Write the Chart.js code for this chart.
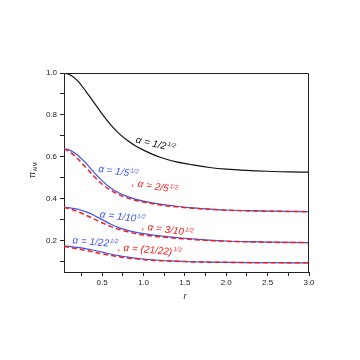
<!DOCTYPE html>
<html>
<head>
<meta charset="utf-8">
<script src="https://cdn.jsdelivr.net/npm/chart.js@4/dist/chart.umd.min.js"></script>
<style>
  html, body { margin: 0; padding: 0; background: #fff; }
  #wrap { width: 360px; height: 360px; }
</style>
</head>
<body>
<div id="wrap"><canvas id="chart" width="360" height="360"></canvas></div>
<script>
// r values shared by every curve
const rValues = [0.04, 0.1, 0.2, 0.3, 0.4, 0.5, 0.6, 0.7, 0.8, 0.9, 1.0, 1.2, 1.4, 1.6, 1.8, 2.0, 2.25, 2.5, 2.75, 3.0];

// alpha = 1/2^(1/2)
const piHalf = [1.0, 0.994, 0.965, 0.915, 0.86, 0.805, 0.755, 0.713, 0.68, 0.653, 0.632, 0.598, 0.576, 0.561, 0.549, 0.541, 0.535, 0.531, 0.528, 0.527];
// alpha = 1/5^(1/2) (blue) and 2/5^(1/2) (red)
const piFifthA = [0.638, 0.633, 0.610, 0.572, 0.527, 0.486, 0.452, 0.428, 0.411, 0.398, 0.388, 0.374, 0.364, 0.356, 0.350, 0.346, 0.343, 0.341, 0.339, 0.338];
const piFifthB = [0.638, 0.626, 0.593, 0.551, 0.508, 0.470, 0.441, 0.420, 0.404, 0.393, 0.384, 0.370, 0.361, 0.354, 0.349, 0.345, 0.342, 0.340, 0.339, 0.338];
// alpha = 1/10^(1/2) (blue) and 3/10^(1/2) (red)
const piTenthA = [0.360, 0.357, 0.350, 0.338, 0.321, 0.300, 0.279, 0.262, 0.250, 0.240, 0.233, 0.222, 0.214, 0.208, 0.202, 0.198, 0.195, 0.193, 0.191, 0.190];
const piTenthB = [0.358, 0.352, 0.339, 0.322, 0.304, 0.285, 0.268, 0.254, 0.243, 0.234, 0.227, 0.218, 0.211, 0.205, 0.200, 0.197, 0.194, 0.192, 0.191, 0.190];
// alpha = 1/22^(1/2) (blue) and (21/22)^(1/2) (red)
const pi22A = [0.174, 0.172, 0.168, 0.162, 0.154, 0.145, 0.136, 0.128, 0.122, 0.116, 0.112, 0.106, 0.102, 0.099, 0.097, 0.096, 0.095, 0.095, 0.094, 0.094];
const pi22B = [0.172, 0.168, 0.161, 0.153, 0.145, 0.137, 0.129, 0.123, 0.117, 0.113, 0.109, 0.104, 0.101, 0.098, 0.097, 0.096, 0.095, 0.094, 0.094, 0.094];

const xTickLabels = ["0.5", "1.0", "1.5", "2.0", "2.5", "3.0"];
const yTickLabels = ["0.2", "0.4", "0.6", "0.8", "1.0"];

const BLUE = "#3a55f0";
const RED = "#f0201c";
const BLACK = "#111";

// curve labels: main text + superscript, placed in data coords
const curveLabels = [
  { text: "\u03b1 = 1/2", sup: "1/2", color: BLACK, r: 0.90, v: 0.668, rot: 13 },
  { text: "\u03b1 = 1/5", sup: "1/2", color: BLUE, r: 0.45, v: 0.528, rot: 8 },
  { text: ", \u03b1 = 2/5", sup: "1/2", color: RED, r: 0.86, v: 0.463, rot: 10 },
  { text: "\u03b1 = 1/10", sup: "1/2", color: BLUE, r: 0.47, v: 0.311, rot: 7 },
  { text: ", \u03b1 = 3/10", sup: "1/2", color: RED, r: 0.98, v: 0.254, rot: 8 },
  { text: "\u03b1 = 1/22", sup: "1/2", color: BLUE, r: 0.14, v: 0.187, rot: 5 },
  { text: ", \u03b1 = (21/22)", sup: "1/2", color: RED, r: 0.69, v: 0.154, rot: 5 }
];

const FONT = 'Arial, "Liberation Sans", sans-serif';

function pts(ys) {
  return rValues.map((r, i) => ({ x: r, y: ys[i] }));
}

function line(ys, color, dashed, order) {
  return {
    data: pts(ys),
    borderColor: color,
    borderWidth: dashed ? 1.5 : 1.2,
    borderDash: dashed ? [5, 3] : [],
    pointRadius: 0,
    cubicInterpolationMode: 'monotone',
    fill: false,
    order: order
  };
}

const extras = {
  id: 'extras',
  afterDraw(c) {
    const ctx = c.ctx;
    const a = c.chartArea;
    const xs = c.scales.x, ys = c.scales.y;
    ctx.save();
    // frame top + right
    ctx.strokeStyle = '#222';
    ctx.lineWidth = 1;
    ctx.beginPath();
    ctx.moveTo(a.left, a.top + 0.5);
    ctx.lineTo(a.right - 0.5, a.top + 0.5);
    ctx.lineTo(a.right - 0.5, a.bottom);
    ctx.stroke();

    // curve labels
    curveLabels.forEach(l => {
      const px = xs.getPixelForValue(l.r);
      const py = ys.getPixelForValue(l.v);
      ctx.save();
      ctx.translate(px, py);
      ctx.rotate(l.rot * Math.PI / 180);
      ctx.fillStyle = l.color;
      ctx.textBaseline = 'alphabetic';
      ctx.textAlign = 'left';
      ctx.font = 'italic 10px ' + FONT;
      ctx.fillText(l.text, 0, 0);
      const w = ctx.measureText(l.text).width;
      ctx.font = 'italic 6px ' + FONT;
      ctx.fillText(l.sup, w + 1, -4);
      ctx.restore();
    });

    // y title: pi with subscript
    ctx.save();
    ctx.translate(35, 178);
    ctx.rotate(-Math.PI / 2);
    ctx.fillStyle = '#222';
    ctx.textAlign = 'left';
    ctx.font = '9px ' + FONT;
    ctx.fillText('\u03c0', 0, 0);
    const pw = ctx.measureText('\u03c0').width;
    ctx.font = '5px ' + FONT;
    ctx.fillText('AIM', pw + 0.5, 2);
    ctx.restore();

    // x title
    ctx.fillStyle = '#222';
    ctx.font = 'italic 9px ' + FONT;
    ctx.textAlign = 'center';
    ctx.textBaseline = 'middle';
    ctx.fillText('r', 185, 296);
    ctx.restore();
  }
};

new Chart(document.getElementById('chart'), {
  type: 'line',
  data: {
    datasets: [
      line(piHalf, BLACK, false, 3),
      line(piFifthA, BLUE, false, 2),
      line(piFifthB, RED, true, 1),
      line(piTenthA, BLUE, false, 2),
      line(piTenthB, RED, true, 1),
      line(pi22A, BLUE, false, 2),
      line(pi22B, RED, true, 1)
    ]
  },
  options: {
    responsive: false,
    animation: false,
    layout: { padding: { top: 73, right: 51, bottom: 58, left: 0 } },
    plugins: { legend: { display: false }, tooltip: { enabled: false } },
    scales: {
      x: {
        type: 'linear',
        min: 0.04,
        max: 3.0,
        afterFit(s) { s.height = 30; },
        border: { color: '#222', width: 1 },
        grid: { drawOnChartArea: false, tickLength: 4, color: '#222' },
        ticks: {
          stepSize: 0.25,
          includeBounds: false,
          padding: 2,
          maxRotation: 0,
          autoSkip: false,
          color: '#222',
          font: { family: FONT, size: 8 },
          callback(v) {
            const i = Math.round(v * 2) - 1;
            return (Math.abs(v * 2 - Math.round(v * 2)) < 1e-6 && xTickLabels[i]) ? xTickLabels[i] : '';
          }
        }
      },
      y: {
        min: 0.05,
        max: 1.0,
        afterFit(s) { s.width = 64; },
        border: { color: '#222', width: 1 },
        grid: { drawOnChartArea: false, tickLength: 4, color: '#222' },
        ticks: {
          stepSize: 0.1,
          includeBounds: false,
          padding: 3,
          autoSkip: false,
          color: '#222',
          font: { family: FONT, size: 8 },
          callback(v) {
            const k = Math.round(v * 10);
            return (k % 2 === 0) ? yTickLabels[k / 2 - 1] : '';
          }
        }
      }
    }
  },
  plugins: [extras]
});
</script>
</body>
</html>
